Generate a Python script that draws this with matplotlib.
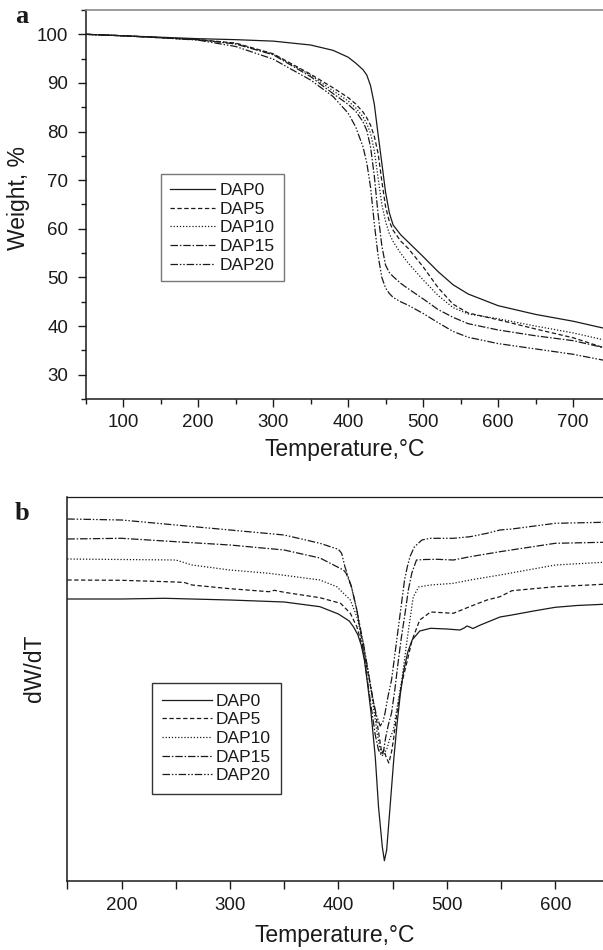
import matplotlib
matplotlib.use("Agg")
import matplotlib.pyplot as plt
from matplotlib.ticker import MultipleLocator

plt.rcParams['font.family'] = ['Liberation Sans', 'DejaVu Sans']

labels = ["DAP0", "DAP5", "DAP10", "DAP15", "DAP20"]

# ---- Panel a: TGA weight (%) vs temperature (°C)
temp_a = [50, 100, 150, 200, 250, 300, 350, 380, 400, 410, 420, 425, 430, 435,
          440, 445, 450, 455, 460, 470, 480, 500, 520, 540, 560, 600, 650, 700, 740]
w_dap0 = [100, 99.7, 99.4, 99.1, 98.9, 98.6, 97.8, 96.7, 95.3, 94.1, 92.7, 91.6, 89.4, 85.6,
          79.4, 73.5, 67.5, 63.3, 60.8, 58.8, 57.3, 54.3, 51.2, 48.5, 46.6, 44.2, 42.4, 41.0, 39.6]
w_dap5 = [100, 99.7, 99.3, 98.9, 98.2, 96.0, 91.8, 89.0, 87.0, 85.7, 84.0, 82.8, 81.3, 79.0,
          75.5, 69.8, 64.5, 61.5, 59.7, 57.5, 56.0, 52.2, 47.9, 44.5, 42.7, 41.3, 39.4, 37.6, 35.6]
w_dap10 = [100, 99.7, 99.3, 98.9, 98.1, 95.9, 91.6, 88.4, 86.3, 84.9, 83.0, 81.6, 79.6, 76.0,
           70.5, 65.0, 61.5, 59.0, 57.4, 55.0, 53.0, 49.5, 46.3, 43.8, 42.5, 41.5, 40.0, 38.6, 37.2]
w_dap15 = [100, 99.7, 99.3, 98.9, 98.0, 95.8, 91.3, 87.8, 85.6, 84.2, 82.0, 80.2, 76.8, 70.8,
           63.0, 56.5, 52.5, 51.0, 50.2, 48.8, 47.7, 45.6, 43.4, 41.8, 40.5, 39.2, 38.0, 37.0, 35.6]
w_dap20 = [100, 99.7, 99.3, 98.8, 97.5, 94.9, 90.6, 87.2, 83.8, 81.0, 76.8, 73.5, 68.5, 61.0,
           54.5, 50.0, 47.8, 46.7, 45.9, 45.0, 44.3, 42.6, 40.7, 38.9, 37.7, 36.4, 35.3, 34.2, 33.0]

# ---- Panel b: DTG (dW/dT, arbitrary units) vs temperature (°C)
t_b0 = [150, 200, 240, 300, 350, 383, 400, 410, 414, 418, 421, 424, 427, 430, 434, 437, 440.5,
        442.4, 444.5, 447.7, 451, 454, 457, 460, 464, 468, 475, 485, 500, 512, 516, 518.5, 521,
        524, 531, 549, 560, 580, 600, 620, 644]
d_dap0 = [282, 282, 282.7, 281, 279, 274.3, 267, 260, 254, 246, 236, 221, 196, 169, 124, 74, 34,
          20.3, 31, 75, 121, 156, 186, 209, 229, 241, 250, 252.7, 252, 251, 253, 255, 254,
          252.5, 256, 264, 266, 270, 273.7, 275.5, 276.7]
t_b5 = [150, 200, 250, 258, 265, 300, 336, 341, 350, 383, 402, 411, 417, 423, 428, 432, 436, 440,
        442, 444, 446.5, 449, 451, 454, 458, 463, 468, 475, 485, 506, 521, 537, 549, 560, 600, 644]
d_dap5 = [301, 300.7, 299, 298.5, 296, 292.3, 289.3, 290.7, 288.7, 283.3, 277.7, 267.7, 254.3, 231,
          204, 181, 156, 128, 131, 124, 118, 129, 143, 168, 196, 218, 241, 261, 269, 267.7, 274.3,
          281, 284.3, 290.3, 294.3, 296.7]
t_b10 = [150, 250, 265, 300, 336, 383, 398.5, 411, 417, 423, 428, 432, 436, 439, 441, 443, 445,
         447, 450.7, 454.5, 458.5, 461.5, 464.6, 469, 474, 485, 506, 521.5, 549, 600, 644]
d_dap10 = [322, 321, 316, 311, 307.7, 301, 294.3, 281, 264.3, 237.7, 206, 176, 146, 129, 125, 129,
           133, 141, 151, 176, 201, 226, 251, 284, 294, 296, 297.7, 301, 306, 316, 318.7]
t_b15 = [150, 200, 250, 300, 350, 383, 404.6, 407, 412, 417, 421.6, 426, 430, 434, 437, 439.5,
         441.5, 443.5, 446, 449, 452, 455, 458, 461.5, 464.5, 467.7, 472, 480, 490.8, 506, 521.5,
         549, 600, 644]
d_dap15 = [342, 342.7, 339.3, 336, 331, 323, 311, 308, 294.3, 271, 241, 206, 176, 146, 131, 126,
           129, 143, 156, 168, 191, 218, 243, 268, 291, 308, 321, 321.5, 321.7, 321, 324.3, 329.3,
           337.7, 338.7]
t_b20 = [150, 200, 250, 300, 350, 383, 400, 403, 406, 412, 417, 423, 428, 432, 435, 438.5, 441,
         443, 446, 449, 452, 455, 458, 461, 463.5, 466, 470, 477, 484.6, 506, 521.5, 537, 549,
         560, 600, 644]
d_dap20 = [362, 361, 356, 351, 346, 337.7, 331.7, 327.7, 314.3, 294.3, 271, 237.7, 206, 181, 166,
           155, 159, 168, 186, 201, 226, 251, 276, 301, 314, 324.3, 334, 341, 342.7, 342.7, 344.3,
           347.7, 351, 352, 357.7, 358.7]

styles = ['-', (0, (3.5, 2)), (0, (1, 1.5)), (0, (6, 1.5, 1.2, 1.5)), (0, (6, 1.5, 1.2, 1.5, 1.2, 1.5))]
line_color = '#1a1a1a'
lw = 0.9
ink = '#1a1a1a'

W, H = 603, 950
fig = plt.figure(figsize=(W / 100, H / 100), dpi=100)

def px_axes(l, t, r, b):
    return [l / W, 1 - b / H, (r - l) / W, (b - t) / H]

ax1 = fig.add_axes(px_axes(85.7, 10, 603, 399))
ax2 = fig.add_axes(px_axes(67.3, 497.3, 603, 881))

series_a = [w_dap0, w_dap5, w_dap10, w_dap15, w_dap20]
for lab, ys, ls in zip(labels, series_a, styles):
    ax1.plot(temp_a, ys, linestyle=ls, color=line_color, lw=lw, label=lab)

series_b = [(t_b0, d_dap0), (t_b5, d_dap5), (t_b10, d_dap10), (t_b15, d_dap15), (t_b20, d_dap20)]
for lab, (xs, ys), ls in zip(labels, series_b, styles):
    ax2.plot(xs, ys, linestyle=ls, color=line_color, lw=lw, label=lab)

TICK_FS = 13.5
LABEL_FS = 16.5
LEG_FS = 12.5

# Axes a
ax1.set_xlim(50, 740)
ax1.set_ylim(25, 105)
ax1.xaxis.set_minor_locator(MultipleLocator(50))
ax1.yaxis.set_minor_locator(MultipleLocator(5))
ax1.set_yticks(range(30, 101, 10))
ax1.set_xticks(range(100, 701, 100))
ax1.tick_params(which='major', direction='out', length=5.5, width=1.0, labelsize=TICK_FS,
                color=ink, labelcolor=ink)
ax1.tick_params(axis='x', which='major', pad=5.5)
ax1.tick_params(axis='y', which='major', pad=7)
ax1.tick_params(which='minor', direction='out', length=3.5, width=1.0, color=ink)
for s in ['left', 'bottom']:
    ax1.spines[s].set_linewidth(1.1)
    ax1.spines[s].set_color(ink)
ax1.spines['top'].set_color('#8a8a8a')
ax1.spines['top'].set_linewidth(1.2)
ax1.spines['right'].set_visible(False)
ax1.set_xlabel('Temperature,°C', fontsize=LABEL_FS, labelpad=4.5, color=ink)
ax1.set_ylabel('Weight, %', fontsize=LABEL_FS, color=ink)
ax1.yaxis.set_label_coords((30 - 85.7) / 517.3, 0.517)

leg1 = ax1.legend(loc='upper left', bbox_to_anchor=((161 - 85.7) / 517.3, (399 - 174.3) / 389),
                  borderaxespad=0, fontsize=LEG_FS, handlelength=2.6, handletextpad=0.3,
                  labelspacing=0.2, borderpad=0.5, fancybox=False, framealpha=1)
leg1.get_frame().set_edgecolor('#777777')
leg1.get_frame().set_linewidth(1.0)
for t in leg1.get_texts():
    t.set_color(ink)

# Axes b
ax2.set_xlim(150, 644)
ax2.set_ylim(0, 383.7)
ax2.set_xticks(range(200, 601, 100))
ax2.xaxis.set_minor_locator(MultipleLocator(50))
ax2.set_yticks([])
ax2.tick_params(which='both', direction='out', length=5.5, width=1.0, color=ink)
ax2.tick_params(axis='x', which='major', labelsize=TICK_FS, pad=6, labelcolor=ink)
for s in ['left', 'bottom', 'top']:
    ax2.spines[s].set_linewidth(1.1)
    ax2.spines[s].set_color(ink)
ax2.spines['top'].set_linewidth(0.9)
ax2.spines['right'].set_visible(False)
ax2.set_xlabel('Temperature,°C', fontsize=LABEL_FS, labelpad=7, color=ink)
ax2.set_ylabel('dW/dT', fontsize=LABEL_FS, color=ink)
ax2.yaxis.set_label_coords((46 - 67.3) / 535.7, 0.555)

leg2 = ax2.legend(loc='upper left', bbox_to_anchor=((151.7 - 67.3) / 535.7, (881 - 683.3) / 383.7),
                  borderaxespad=0, fontsize=LEG_FS, handlelength=2.9, handletextpad=0.2,
                  labelspacing=0.2, borderpad=0.6, fancybox=False, framealpha=1)
leg2.get_frame().set_edgecolor('#333333')
leg2.get_frame().set_linewidth(1.0)
for t in leg2.get_texts():
    t.set_color(ink)

fig.text(15 / W, 1 - 23 / H, 'a', fontsize=19, fontweight='bold', family='Liberation Serif',
         ha='left', va='baseline', color=ink)
fig.text(15 / W, 1 - 520 / H, 'b', fontsize=19, fontweight='bold', family='Liberation Serif',
         ha='left', va='baseline', color=ink)

fig.savefig('out.png', dpi=100)
